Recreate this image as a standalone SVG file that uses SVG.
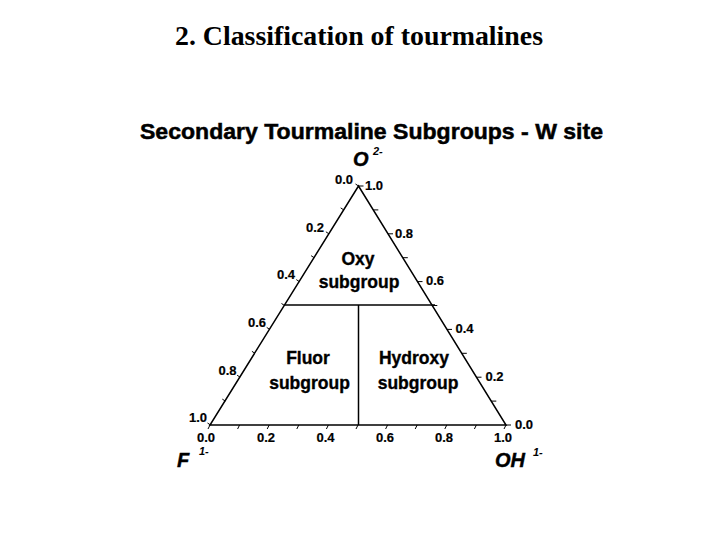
<svg xmlns="http://www.w3.org/2000/svg" width="720" height="540" viewBox="0 0 720 540">
<style>
.title{font-family:"Liberation Serif","Times New Roman",serif;font-weight:bold;font-size:27px;fill:#000}
.sub{font-family:"Liberation Sans",Arial,sans-serif;font-weight:bold;font-size:22px;fill:#000;stroke:#000;stroke-width:0.5}
.tk{font-family:"Liberation Sans",Arial,sans-serif;font-weight:bold;font-size:13px;fill:#000;stroke:#000;stroke-width:0.2}
.lbl{font-family:"Liberation Sans",Arial,sans-serif;font-weight:bold;font-size:17.5px;fill:#000;text-anchor:middle;stroke:#000;stroke-width:0.35}
.ion{font-family:"Liberation Sans",Arial,sans-serif;font-weight:bold;font-style:italic;font-size:20px;fill:#000;stroke:#000;stroke-width:0.4}
.sup{font-family:"Liberation Sans",Arial,sans-serif;font-weight:bold;font-style:italic;font-size:11px;fill:#000}
.ln{stroke:#000;stroke-width:1.5;fill:none}
.t{stroke:#000;stroke-width:1;fill:none}
</style>
<rect width="720" height="540" fill="#fff"/>
<text class="title" x="359" y="45" text-anchor="middle" textLength="368" lengthAdjust="spacingAndGlyphs">2. Classification of tourmalines</text>
<text class="sub" x="140" y="138.5" textLength="463" lengthAdjust="spacingAndGlyphs">Secondary Tourmaline Subgroups - W site</text>

<g id="triangle">
<polygon class="ln" points="358.5,186 506,425 210,425"/>
</g>
<g id="connectors">
<line class="ln" x1="284.5" y1="305" x2="435" y2="305"/>
<line class="ln" x1="358.5" y1="305" x2="358.5" y2="425"/>
</g>

<g id="ticks">
<path class="t" d="M210,425 l-2,4 M239.6,425 l-2,4 M269.2,425 l-2,4 M298.8,425 l-2,4 M328.4,425 l-2,4 M358,425 l-2,4 M387.6,425 l-2,4 M417.2,425 l-2,4 M446.8,425 l-2,4 M476.4,425 l-2,4 M506,425 l-2,4"/>
<path class="t" d="M358.5,186 l-3,-2 M343.7,209.9 l-3,-2 M328.9,233.8 l-3,-2 M314.1,257.7 l-3,-2 M299.3,281.6 l-3,-2 M284.5,305.5 l-3,-2 M269.7,329.4 l-3,-2 M254.9,353.3 l-3,-2 M240.1,377.2 l-3,-2 M225.3,401.1 l-3,-2 M210.5,425 l-3,-2"/>
<path class="t" d="M358.5,186 h5 M373.3,209.9 h5 M388,233.8 h5 M402.8,257.7 h5 M417.5,281.6 h5 M432.3,305.5 h5 M447,329.4 h5 M461.8,353.3 h5 M476.5,377.2 h5 M491.3,401.1 h5 M506,425 h5"/>
</g>

<g id="left-labels" class="tk" text-anchor="end">
<text x="353" y="184">0.0</text>
<text x="324" y="231.5">0.2</text>
<text x="295" y="279">0.4</text>
<text x="266" y="327">0.6</text>
<text x="236.5" y="375">0.8</text>
<text x="207" y="422">1.0</text>
</g>
<g id="right-labels" class="tk">
<text x="365" y="190">1.0</text>
<text x="395" y="237.5">0.8</text>
<text x="426" y="285">0.6</text>
<text x="455.5" y="333">0.4</text>
<text x="485.5" y="381">0.2</text>
<text x="515" y="429">0.0</text>
</g>
<g id="bottom-labels" class="tk" text-anchor="middle">
<text x="206" y="442">0.0</text>
<text x="266" y="442">0.2</text>
<text x="325.5" y="442">0.4</text>
<text x="385" y="442">0.6</text>
<text x="444" y="442">0.8</text>
<text x="503" y="442">1.0</text>
</g>

<g id="oxy">
<text class="lbl" x="358" y="265">Oxy</text>
<text class="lbl" x="359" y="288">subgroup</text>
</g>
<g id="fluor">
<text class="lbl" x="308" y="364">Fluor</text>
<text class="lbl" x="309.5" y="389">subgroup</text>
</g>
<g id="hydroxy">
<text class="lbl" x="414" y="364">Hydroxy</text>
<text class="lbl" x="418" y="389">subgroup</text>
</g>

<g id="O-vertex">
<text class="ion" x="353" y="166">O</text>
<text class="sup" x="373" y="155">2-</text>
</g>
<g id="F-vertex">
<text class="ion" x="177" y="467">F</text>
<text class="sup" x="199" y="455">1-</text>
</g>
<g id="OH-vertex">
<text class="ion" x="495" y="467">OH</text>
<text class="sup" x="533" y="456">1-</text>
</g>
</svg>
